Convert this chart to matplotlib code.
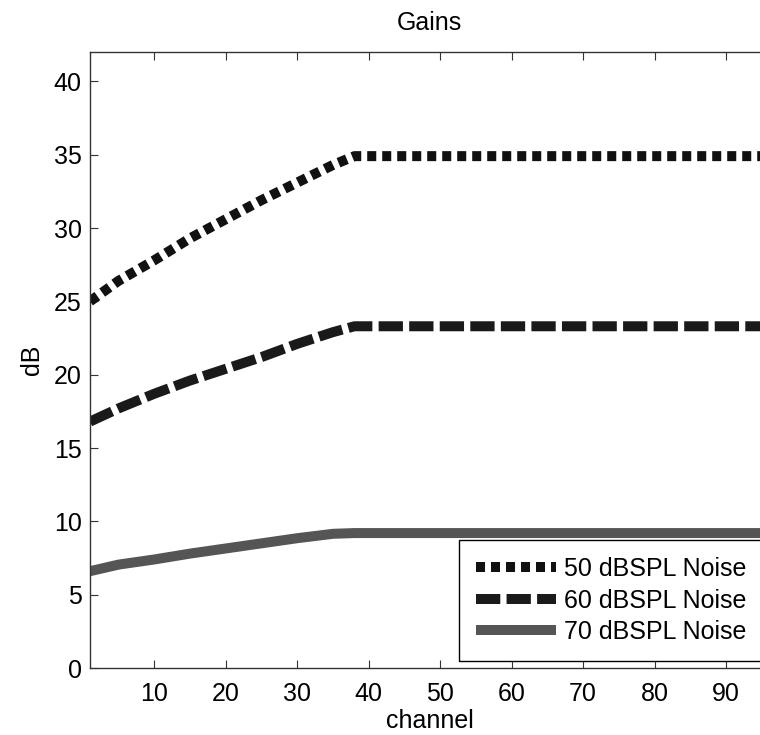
import matplotlib
matplotlib.use("Agg")
import matplotlib.pyplot as plt

plt.rcParams['font.family'] = ['Liberation Sans', 'DejaVu Sans']
plt.rcParams['lines.scale_dashes'] = False

# Gain per channel for three noise levels (dB)
channels = [1, 5, 10, 15, 20, 25, 30, 35, 38, 96]
gain_50 = [25.0, 26.4, 27.8, 29.3, 30.6, 31.9, 33.1, 34.3, 34.9, 34.9]
gain_60 = [16.8, 17.7, 18.7, 19.6, 20.4, 21.2, 22.1, 22.9, 23.3, 23.3]
gain_70 = [6.6, 7.05, 7.4, 7.8, 8.15, 8.5, 8.85, 9.15, 9.2, 9.2]
labels = ['50 dBSPL Noise', '60 dBSPL Noise', '70 dBSPL Noise']
x_ticks = [10, 20, 30, 40, 50, 60, 70, 80, 90]
y_ticks = [0, 5, 10, 15, 20, 25, 30, 35, 40]

W, H = 760, 735
fs = 18
fig = plt.figure(figsize=(W / 100, H / 100), dpi=100)
left, right, top, bottom = 90, 769, 52, 668
ax = fig.add_axes([left / W, 1 - bottom / H, (right - left) / W, (bottom - top) / H])

lw = 7.2
ax.plot(channels, gain_50, color='#111111', lw=lw, dashes=(6.5, 4.3),
        solid_capstyle='butt', dash_capstyle='butt', label=labels[0])
ax.plot(channels, gain_60, color='#1a1a1a', lw=lw, dashes=(17.5, 4.5),
        solid_capstyle='butt', dash_capstyle='butt', label=labels[1])
ax.plot(channels, gain_70, color='#555555', lw=lw,
        solid_capstyle='butt', label=labels[2])

ax.set_xlim(1, 96)
ax.set_ylim(0, 42)
ax.set_xticks(x_ticks)
ax.set_yticks(y_ticks)
ax.tick_params(direction='in', length=6, width=0.8, color='#333333',
               top=True, right=True, labelsize=fs)
ax.tick_params(axis='x', pad=10)
ax.tick_params(axis='y', pad=6)
for s in ax.spines.values():
    s.set_color('#333333')
    s.set_linewidth(1.0)

ax.set_title('Gains', fontsize=fs, pad=16)
ax.set_xlabel('channel', fontsize=fs, labelpad=2)
ax.set_ylabel('dB', fontsize=fs, labelpad=7)

leg = ax.legend(loc='upper left', bbox_to_anchor=(459 / W, 1 - 540 / H),
                bbox_transform=fig.transFigure, borderaxespad=0,
                fontsize=fs, handlelength=3.2, handletextpad=0.3,
                labelspacing=0.3, borderpad=0.68, fancybox=False,
                framealpha=1, edgecolor='black')
leg.get_frame().set_linewidth(1.0)

fig.savefig('out.png', dpi=100)
